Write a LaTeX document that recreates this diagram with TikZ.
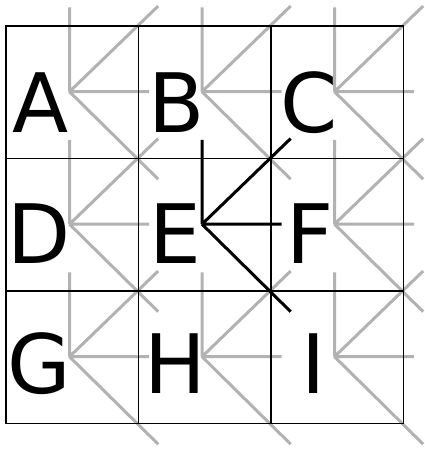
\documentclass[tikz,border=0pt]{standalone}
\usepackage{fontspec}
\setmainfont{DejaVu Sans}
\usetikzlibrary{calc}
\definecolor{armgray}{RGB}{178,178,178}
\begin{document}
\begin{tikzpicture}[x=1pt,y=-1pt,
  gridline/.style={line width=1.3pt,black,line cap=rect},
  armg/.style={line width=3pt,armgray},
  armb/.style={line width=3pt,black},
  letter/.style={font=\fontsize{82}{90}\selectfont,inner sep=0pt,anchor=base}]
\useasboundingbox (0,0) rectangle (424,450);
% star centres and arm ends
\foreach \n/\i/\j in {A/0/0,B/1/0,C/2/0,D/0/1,E/1/1,F/2/1,G/0/2,H/1/2,I/2/2} {
  \coordinate (s\n) at (69.5+132.5*\i, 91.7+132.5*\j);
  \coordinate (s\n-u) at ($(s\n)+(0,-84.4)$);
  \coordinate (s\n-ur) at ($(s\n)+(88.7,-85.7)$);
  \coordinate (s\n-r) at ($(s\n)+(79.5,0)$);
  \coordinate (s\n-dr) at ($(s\n)+(88.7,87.5)$);
}
% grey stars
\foreach \n in {A,B,C,D,F,G,H,I} {
  \draw[armg] (s\n) -- (s\n-u) (s\n) -- (s\n-ur) (s\n) -- (s\n-r) (s\n) -- (s\n-dr);
}
% grid
\foreach \k in {0,...,3} {
  \draw[gridline] (6+132.5*\k,26) -- (6+132.5*\k,423.5);
  \draw[gridline] (6,26+132.5*\k) -- (403.5,26+132.5*\k);
}
% black star
\draw[armb] (sE) -- (sE-u) (sE) -- (sE-ur) (sE) -- (sE-r) (sE) -- (sE-dr);
% letters
\node[letter] (A) at (40.6,132.7) {A};
\node[letter] (B) at (177,132.7) {B};
\node[letter] (C) at (309,132.7) {C};
\node[letter] (D) at (38.6,263.3) {D};
\node[letter] (E) at (175,263.3) {E};
\node[letter] (F) at (309.6,263.3) {F};
\node[letter] (G) at (39.2,393.3) {G};
\node[letter] (H) at (175.8,393.3) {H};
\node[letter] (I) at (314,393.3) {I};
\end{tikzpicture}
\end{document}
